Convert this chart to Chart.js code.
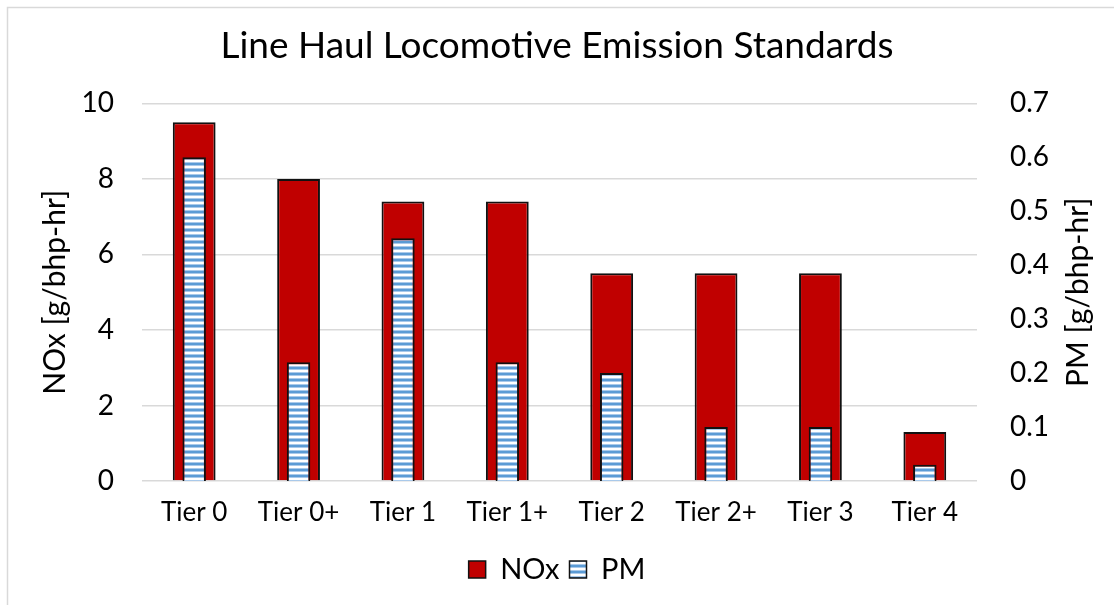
<!DOCTYPE html>
<html>
<head>
<meta charset="utf-8">
<script src="https://cdn.jsdelivr.net/npm/chart.js@4.4.1/dist/chart.umd.min.js"></script>
<style>
    html, body { margin: 0; padding: 0; background: #fff; overflow: hidden; }
    #chart { display: block; }
</style>
</head>
<body>
<canvas id="chart" width="1114" height="605"></canvas>
<script>
// data
const tiers = ['Tier 0', 'Tier 0+', 'Tier 1', 'Tier 1+', 'Tier 2', 'Tier 2+', 'Tier 3', 'Tier 4'];
const noxValues = [9.5, 8.0, 7.4, 7.4, 5.5, 5.5, 5.5, 1.3];
const pmValues = [0.6, 0.22, 0.45, 0.22, 0.2, 0.1, 0.1, 0.03];
const chartTitle = 'Line Haul Locomotive Emission Standards';
const noxAxisTitle = 'NOx [g/bhp-hr]';
const pmAxisTitle = 'PM [g/bhp-hr]';

const FONT = 'Lato';
Chart.defaults.color = '#000';
Chart.defaults.font.family = FONT;

// blue horizontal stripes for the PM bars
function stripePattern() {
    const c = document.createElement('canvas');
    c.width = 6;
    c.height = 6;
    const g = c.getContext('2d');
    g.fillStyle = '#fff';
    g.fillRect(0, 0, 6, 6);
    g.fillStyle = '#a9c9ea';
    g.fillRect(0, 0, 6, 1);
    g.fillRect(0, 3, 6, 1);
    g.fillStyle = '#5b9bd5';
    g.fillRect(0, 1, 6, 2);
    return g.createPattern(c, 'repeat');
}

// grey frame + right axis title (reads bottom to top like the left one)
const framePlugin = {
    id: 'frame',
    beforeDraw(chart) {
        const ctx = chart.ctx;
        ctx.save();
        ctx.fillStyle = '#fff';
        ctx.fillRect(0, 0, chart.width, chart.height);
        ctx.strokeStyle = '#d9d9d9';
        ctx.lineWidth = 1.5;
        ctx.strokeRect(7.5, 7.5, chart.width + 20, chart.height + 20);
        ctx.restore();
    },
    afterDraw(chart) {
        const ctx = chart.ctx;
        const a = chart.chartArea;
        const s = chart.scales.y2;
        ctx.save();
        ctx.translate(s.left + 111, (a.top + a.bottom) / 2);
        ctx.rotate(-Math.PI / 2);
        ctx.font = `30px ${FONT}`;
        ctx.fillStyle = '#000';
        ctx.textAlign = 'center';
        ctx.textBaseline = 'alphabetic';
        ctx.fillText(pmAxisTitle, 0, 0);
        ctx.restore();
    }
};

const ctx = document.getElementById('chart').getContext('2d');
const chart = new Chart(ctx, {
    type: 'bar',
    data: {
        labels: tiers,
        datasets: [{
            label: 'NOx',
            data: noxValues,
            yAxisID: 'y',
            backgroundColor: '#c00000',
            borderColor: '#111',
            borderWidth: 2,
            barPercentage: 0.41,
            categoryPercentage: 1,
            order: 1
        }, {
            label: 'PM',
            data: pmValues,
            yAxisID: 'y2',
            backgroundColor: stripePattern(),
            borderColor: '#111',
            borderWidth: 2,
            barPercentage: 0.225,
            categoryPercentage: 1,
            order: 0
        }]
    },
    options: {
        responsive: false,
        animation: false,
        grouped: false,
        layout: {
            padding: { left: 0, right: 0, top: 0, bottom: 11 }
        },
        plugins: {
            title: {
                display: true,
                text: chartTitle,
                font: { size: 37, weight: 'normal' },
                padding: { top: 24, bottom: 35 }
            },
            legend: {
                position: 'bottom',
                labels: {
                    font: { size: 29 },
                    boxWidth: 17,
                    boxHeight: 17,
                    padding: 10,
                    generateLabels: function (c) {
                        return c.data.datasets.map(function (ds, i) {
                            return {
                                text: ds.label,
                                fillStyle: ds.backgroundColor,
                                strokeStyle: '#111',
                                lineWidth: 1.5,
                                datasetIndex: i,
                                hidden: false
                            };
                        });
                    }
                }
            },
            tooltip: { enabled: false }
        },
        scales: {
            x: {
                grid: { display: false, drawTicks: false },
                border: { display: false },
                ticks: { font: { size: 26 }, padding: 16 },
                afterFit: function (scale) { scale.height = 64; }
            },
            y: {
                position: 'left',
                min: 0,
                max: 10,
                ticks: { stepSize: 2, font: { size: 28 }, padding: 28 },
                grid: { color: '#d9d9d9', lineWidth: 1.5, drawTicks: false },
                border: { display: false },
                title: {
                    display: true,
                    text: noxAxisTitle,
                    font: { size: 30 },
                    padding: { top: 37, bottom: 0 }
                },
                afterFit: function (scale) { scale.width = 142; }
            },
            y2: {
                position: 'right',
                min: 0,
                max: 0.7,
                ticks: { stepSize: 0.1, font: { size: 28 }, padding: 33 },
                grid: { display: false, drawTicks: false },
                border: { display: false },
                afterFit: function (scale) { scale.width = 137; }
            }
        }
    },
    plugins: [framePlugin]
});
</script>
</body>
</html>
